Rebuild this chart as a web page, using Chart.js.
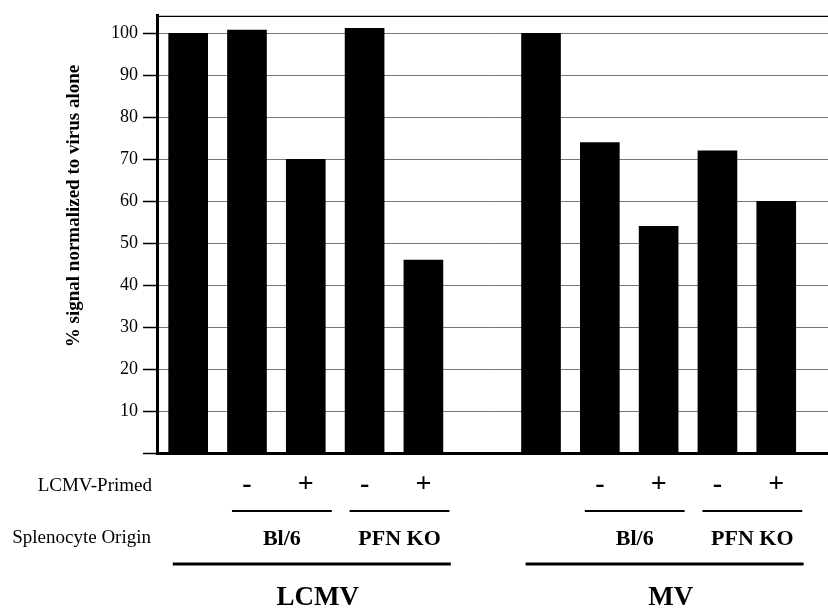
<!DOCTYPE html>
<html>
<head>
<meta charset="utf-8">
<script src="https://cdn.jsdelivr.net/npm/chart.js@4"></script>
<style>
  html, body { margin: 0; padding: 0; background: #fff; }
  #wrap { width: 828px; height: 608px; }
</style>
</head>
<body>
<div id="wrap"><canvas id="myChart" width="828" height="608"></canvas></div>
<script>
// bars, left to right (null = empty gap between virus groups)
const virus = ['LCMV', 'LCMV', 'LCMV', 'LCMV', 'LCMV', '', 'MV', 'MV', 'MV', 'MV', 'MV'];
const primed = ['', '-', '+', '-', '+', '', '', '-', '+', '-', '+'];
const origin = ['', 'Bl/6', 'Bl/6', 'PFN KO', 'PFN KO', '', '', 'Bl/6', 'Bl/6', 'PFN KO', 'PFN KO'];
const values = [100, 100.8, 70, 101.2, 46, null, 100, 74, 54, 72, 60];
const yTicks = [10, 20, 30, 40, 50, 60, 70, 80, 90, 100];

const serif = '"Liberation Serif", "Times New Roman", serif';

const points = values.map((v, i) => ({x: i, y: v}));

// span of a run of equal labels -> [first index, last index]
function groups(arr) {
  const out = [];
  arr.forEach((g, i) => {
    if (!g) return;
    const last = out[out.length - 1];
    if (last && last.name === g && last.end === i - 1) last.end = i;
    else out.push({name: g, start: i, end: i});
  });
  return out;
}

const annotate = {
  id: 'annotate',
  afterDraw(chart) {
    const ctx = chart.ctx;
    const xs = chart.scales.x;
    const area = chart.chartArea;
    const half = 0.5 * (xs.getPixelForValue(1) - xs.getPixelForValue(0));
    ctx.save();
    ctx.fillStyle = '#000';
    ctx.strokeStyle = '#000';

    // top frame line
    ctx.lineWidth = 1.2;
    ctx.beginPath();
    ctx.moveTo(area.left, area.top + 0.5);
    ctx.lineTo(area.right, area.top + 0.5);
    ctx.stroke();

    // y title
    ctx.save();
    ctx.translate(74, 206);
    ctx.rotate(-Math.PI / 2);
    ctx.font = 'bold 19px ' + serif;
    ctx.textAlign = 'center';
    ctx.textBaseline = 'middle';
    ctx.fillText('% signal normalized to virus alone', 0, 0);
    ctx.restore();

    // row labels
    ctx.font = '19px ' + serif;
    ctx.textAlign = 'right';
    ctx.textBaseline = 'middle';
    ctx.fillText('LCMV-Primed', 152, 486);
    ctx.fillText('Splenocyte Origin', 151, 538);

    // - / +
    ctx.textAlign = 'center';
    ctx.font = 'bold 28px ' + serif;
    primed.forEach((p, i) => {
      if (p) ctx.fillText(p, xs.getPixelForValue(i), 485);
    });

    // origin groups
    ctx.font = 'bold 22px ' + serif;
    ctx.lineWidth = 1.8;
    groups(origin).forEach(g => {
      const x0 = xs.getPixelForValue(g.start) - 15;
      const x1 = xs.getPixelForValue(g.end) + 26;
      ctx.beginPath();
      ctx.moveTo(x0, 511);
      ctx.lineTo(x1, 511);
      ctx.stroke();
      ctx.fillText(g.name, (x0 + x1) / 2, 539);
    });

    // virus groups
    ctx.font = 'bold 27px ' + serif;
    ctx.lineWidth = 3;
    groups(virus).forEach(g => {
      const x0 = xs.getPixelForValue(g.start) - half + 14;
      const x1 = xs.getPixelForValue(g.end) + half - 2;
      ctx.beginPath();
      ctx.moveTo(x0, 564);
      ctx.lineTo(x1, 564);
      ctx.stroke();
      ctx.fillText(g.name, (x0 + x1) / 2 + 6, 598);
    });
    ctx.restore();
  }
};

const myChart = new Chart(document.getElementById('myChart'), {
  type: 'bar',
  data: {
    datasets: [{
      data: points,
      backgroundColor: '#000',
      borderWidth: 0,
      barThickness: 39
    }]
  },
  options: {
    responsive: false,
    animation: false,
    layout: { padding: { left: 0, right: 0, top: 11, bottom: 155 } },
    plugins: { legend: { display: false }, tooltip: { enabled: false } },
    scales: {
      x: {
        type: 'linear',
        offset: false,
        min: -0.53,
        max: 10.88,
        grid: { display: false, drawTicks: false },
        ticks: { display: false },
        border: { display: true, color: '#000', width: 3 }
      },
      y: {
        min: 0,
        max: 104.2,
        afterFit(scale) { scale.width = 157; },
        afterBuildTicks(scale) {
          scale.ticks = [0].concat(yTicks).map(v => ({value: v}));
        },
        ticks: {
          padding: 5,
          color: '#000',
          font: { family: serif, size: 18 },
          callback: v => (v === 0 ? '' : v)
        },
        grid: {
          color: '#777',
          lineWidth: 1,
          tickColor: '#000',
          tickLength: 14,
          tickWidth: 1.5
        },
        border: { display: true, color: '#000', width: 3 }
      }
    }
  },
  plugins: [annotate]
});
</script>
</body>
</html>
